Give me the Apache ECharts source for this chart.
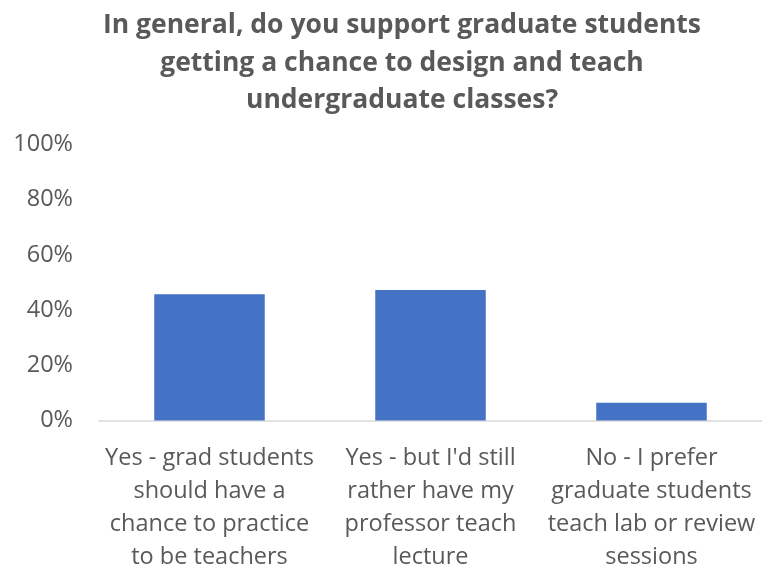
<!DOCTYPE html>
<html>
<head>
<meta charset="utf-8">
<script src="https://cdn.jsdelivr.net/npm/echarts@6/dist/echarts.min.js"></script>
<style>
html, body { margin: 0; padding: 0; background: #fff; }
#chart { width: 762px; height: 571px; }
</style>
</head>
<body>
<div id="chart"></div>
<script>
// Survey answers, one category per response option
const categories = [
  "Yes - grad students\nshould have a\nchance to practice\nto be teachers",
  "Yes - but I'd still\nrather have my\nprofessor teach\nlecture",
  "No - I prefer\ngraduate students\nteach lab or review\nsessions"
];
// Share of respondents, in percent
const shares = [45.7, 47.3, 6.4];
// Value axis ticks
const yTicks = [0, 20, 40, 60, 80, 100];

const titleText = "In general, do you support graduate students\ngetting a chance to design and teach\nundergraduate classes?";
const fontFamily = "'Open Sans', 'Noto Sans', sans-serif";
const gray = "#595959";

const chart = echarts.init(document.getElementById("chart"), null, { renderer: "canvas" });
chart.setOption({
  animation: false,
  backgroundColor: "#ffffff",
  title: {
    text: titleText,
    left: 397,
    top: 2,
    textAlign: "center",
    textStyle: {
      fontFamily: fontFamily,
      fontWeight: "bold",
      fontSize: 26.5,
      lineHeight: 37.5,
      color: gray
    }
  },
  grid: { left: 99, right: 0, top: 144.5, bottom: 150.5, outerBoundsMode: "none" },
  xAxis: {
    type: "category",
    data: categories,
    axisLine: { lineStyle: { color: "#d9d9d9", width: 1.5 } },
    axisTick: { show: false },
    axisLabel: {
      interval: 0,
      margin: 21,
      fontFamily: fontFamily,
      fontSize: 23.5,
      lineHeight: 33,
      color: gray,
      align: "center"
    }
  },
  yAxis: {
    type: "value",
    min: 0,
    max: 100,
    interval: 20,
    splitLine: { show: false },
    axisLine: { show: false },
    axisTick: { show: false },
    axisLabel: {
      margin: 26,
      fontFamily: fontFamily,
      fontSize: 23.5,
      color: gray,
      formatter: function (v) { return yTicks.indexOf(v) >= 0 ? v + "%" : ""; }
    }
  },
  series: [{
    type: "bar",
    data: shares,
    barWidth: "50%",
    itemStyle: { color: "#4472c4" }
  }]
});
</script>
</body>
</html>
